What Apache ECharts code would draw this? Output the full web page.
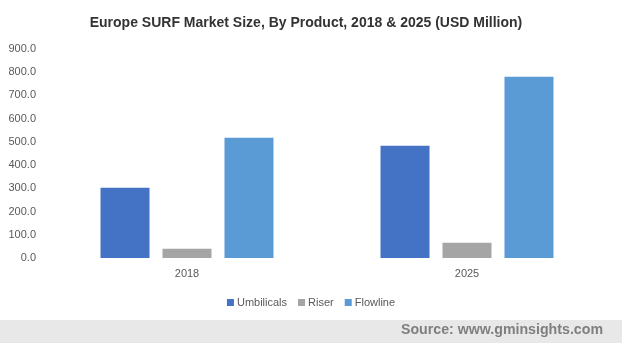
<!DOCTYPE html>
<html>
<head>
<meta charset="utf-8">
<script src="https://cdn.jsdelivr.net/npm/echarts@6/dist/echarts.min.js"></script>
<style>
html,body{margin:0;padding:0;background:#fff;}
#chart{width:622px;height:343px;}
</style>
</head>
<body>
<div id="chart"></div>
<script>
const categories = ['2018', '2025'];
const seriesNames = ['Umbilicals', 'Riser', 'Flowline'];
const umbilicals = [303, 483];
const riser = [40, 66];
const flowline = [518, 781];
const yTicks = [0, 100, 200, 300, 400, 500, 600, 700, 800, 900];
const colors = ['#4472C4', '#A5A5A5', '#5B9BD5'];

const chart = echarts.init(document.getElementById('chart'));
const values = [umbilicals, riser, flowline];
chart.setOption({
  animation: false,
  backgroundColor: '#fff',
  title: {
    text: 'Europe SURF Market Size, By Product, 2018 & 2025 (USD Million)',
    left: 301, top: 11, textAlign: 'center',
    textStyle: {fontFamily: 'Liberation Sans, Arial', fontSize: 14, fontWeight: 'bold', color: '#333'}
  },
  graphic: [
    {type: 'rect', left: 0, top: 320, shape: {width: 622, height: 23}, style: {fill: '#e8e8e8'}, z: 0},
    {type: 'text', right: 19, top: 323, style: {text: 'Source: www.gminsights.com', font: 'bold 14.2px "Liberation Sans", Arial', fill: '#7f7f7f'}, z: 1}
  ],
  legend: {
    data: seriesNames,
    left: 'center', top: 292,
    itemWidth: 7, itemHeight: 7, itemGap: 11,
    icon: 'rect',
    textStyle: {fontFamily: 'Liberation Sans, Arial', fontSize: 11, color: '#595959', padding: [0,0,0,-2]}
  },
  grid: {left: 47, right: 15, top: 49, bottom: 85, containLabel: false},
  xAxis: {
    type: 'category', data: categories,
    axisLine: {show: false}, axisTick: {show: false},
    axisLabel: {color: '#595959', fontSize: 11, fontFamily: 'Liberation Sans, Arial', margin: 10}
  },
  yAxis: {
    type: 'value', min: yTicks[0], max: yTicks[yTicks.length-1], interval: 100,
    splitLine: {show: false}, axisLine: {show: false}, axisTick: {show: false},
    axisLabel: {color: '#595959', fontSize: 11, fontFamily: 'Liberation Sans, Arial', margin: 11,
      formatter: v => v.toFixed(1)}
  },
  series: seriesNames.map((n, i) => ({
    name: n, type: 'bar', data: values[i], barWidth: 49, barGap: '26.5%',
    itemStyle: {color: colors[i]}
  }))
});
</script>
</body>
</html>
